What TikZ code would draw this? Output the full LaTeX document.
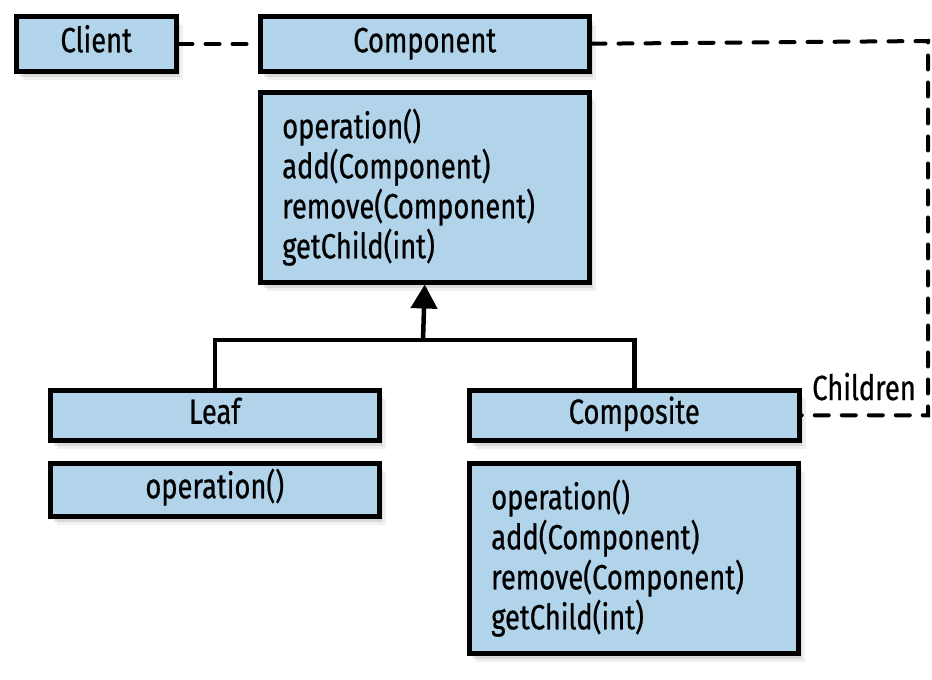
\documentclass[tikz,border=0pt]{standalone}
\usepackage{fontspec}
\setmainfont{Fira Sans}[FakeStretch=0.78, FakeBold=0.6]
\usetikzlibrary{positioning,shadows,arrows.meta}

\definecolor{boxblue}{RGB}{177,212,234}

\tikzset{
  softshadow/.style={
    drop shadow={shadow xshift=2pt, shadow yshift=-3pt, opacity=0.2},
    drop shadow={shadow xshift=4pt, shadow yshift=-6pt, opacity=0.2},
    drop shadow={shadow xshift=7pt, shadow yshift=-9pt, opacity=0.12}},
  classbox/.style={draw, line width=4.5pt, fill=boxblue, rectangle, anchor=north west,
    inner sep=0pt, font=\fontsize{35}{40}\selectfont, softshadow},
  titlebox/.style={classbox, text height=25pt, text depth=8pt},
  opsbox/.style={classbox, align=left, text width=285pt, inner xsep=22pt,
    minimum height=190pt},
  dashline/.style={dash pattern=on 14pt off 13pt, line cap=round, line width=4pt},
  inherit/.style={line width=4.5pt}
}

\begin{document}
\begin{tikzpicture}[x=1pt, y=-1pt]
				\useasboundingbox (0,0) rectangle (932,680);
				\node[titlebox, minimum width=160pt, minimum height=55pt] (client) at (14,14) {Client};
				\node[titlebox, minimum width=329pt, minimum height=55pt] (component) at (258,14) {Component};
				\node[opsbox] (compops) at (258,90) {operation()\\add(Component)\\remove(Component)\\getChild(int)};
				\node[titlebox, minimum width=329pt, minimum height=50pt] (leaf) at (48,388) {Leaf};
				\node[titlebox, minimum width=329pt, minimum height=53pt] (leafops) at (48,461) {operation()};
				\node[titlebox, minimum width=330pt, minimum height=50pt] (composite) at (467,388) {Composite};
				\node[opsbox] (compositeops) at (467,461) {operation()\\add(Component)\\remove(Component)\\getChild(int)};
				\coordinate (joint) at (423,340);
				\coordinate (bend) at (928,41);
				\draw[inherit] (leaf.north) |- (joint) -| (composite.north);
				\draw[inherit, -{Triangle[width=26pt,length=24pt]}] (joint) -- (compops.south);
				\draw[dashline] (client) -- (component);
				\draw[dashline] (component.east) -- (bend) |- (composite.east);
				\node[font=\fontsize{35}{40}\selectfont, anchor=south] (children) at (864,404) {Children};
			\end{tikzpicture}
\end{document}
